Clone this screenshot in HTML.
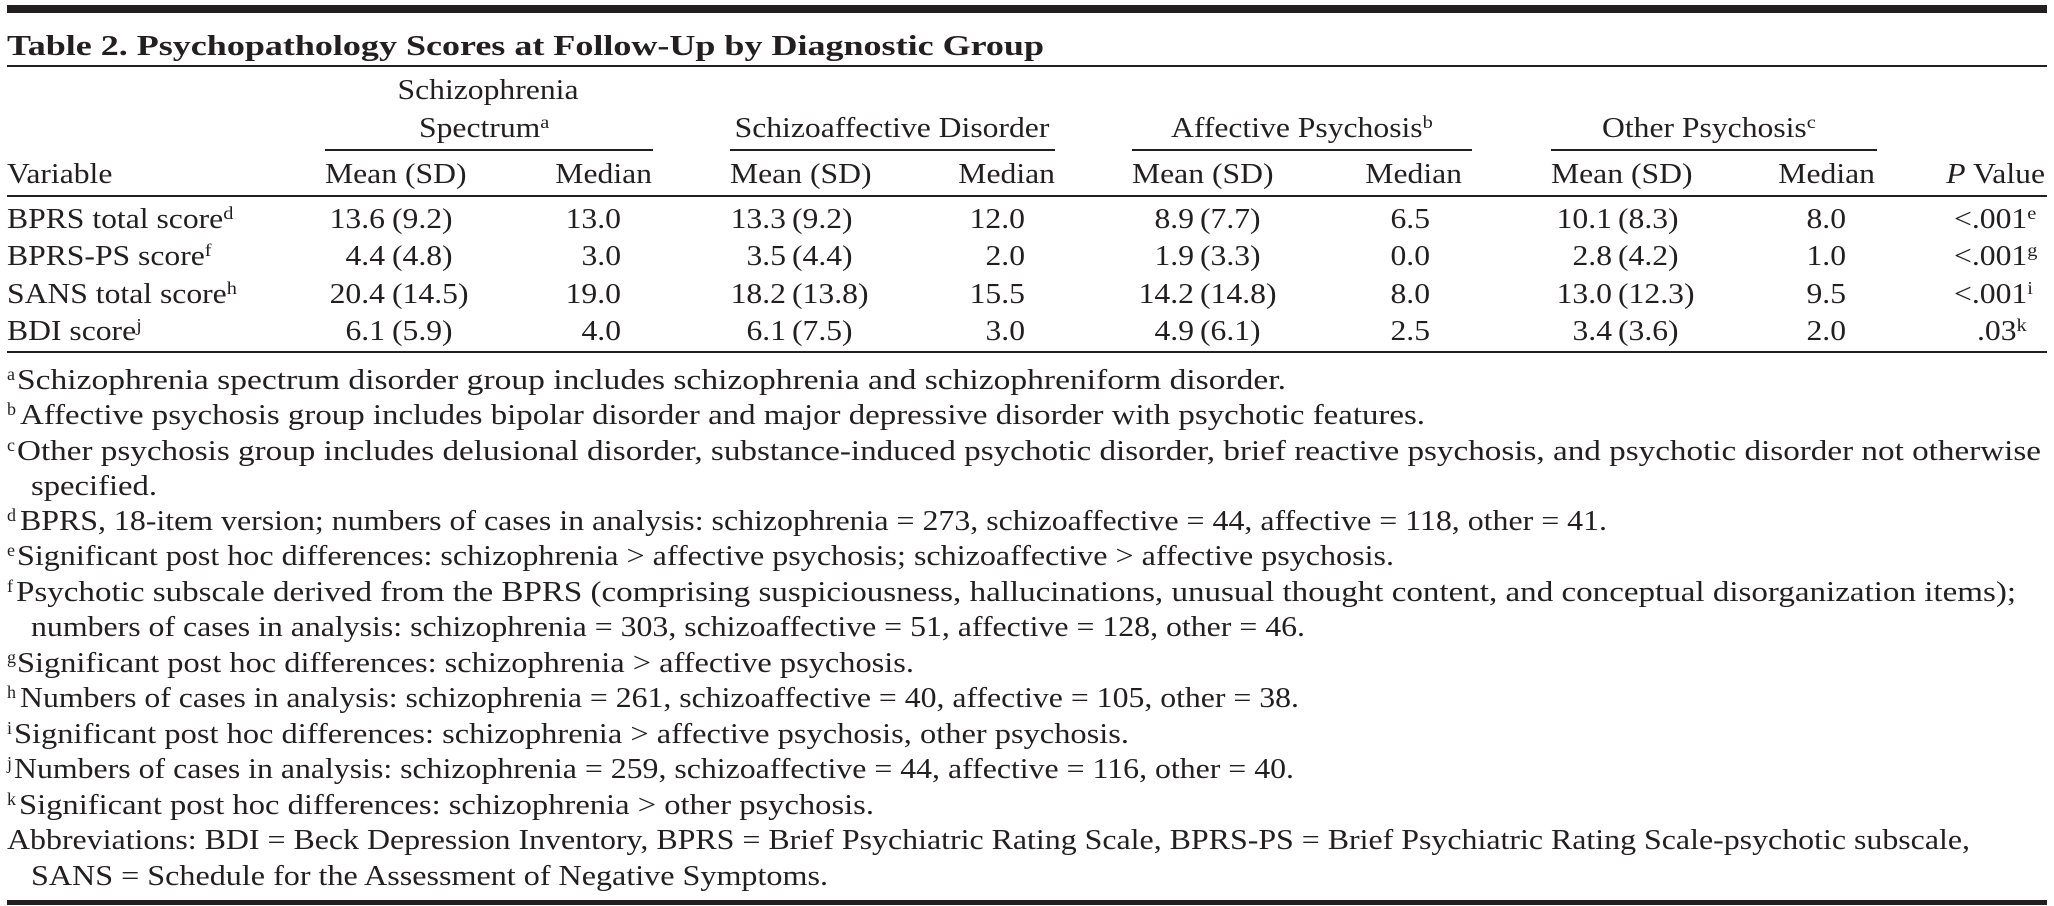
<!DOCTYPE html>
<html><head><meta charset="utf-8">
<style>
html,body{margin:0;padding:0;background:#fff;}
svg{display:block;}
text{font-family:"Liberation Serif",serif;font-size:28px;fill:#231f20;}
.sup{font-size:18px;}
.t{font-weight:bold;}
</style></head>
<body>
<svg width="2054" height="906" viewBox="0 0 2054 906">
<rect x="7" y="5" width="2040" height="8" fill="#231f20"/>
<text class="t" x="7" y="55" textLength="1037" lengthAdjust="spacingAndGlyphs">Table 2. Psychopathology Scores at Follow-Up by Diagnostic Group</text>
<rect x="7" y="65" width="2040" height="2" fill="#231f20"/>

<g>
<text class="s" x="488" y="99" text-anchor="middle">Schizophrenia</text>
<text class="s" x="419" y="137">Spectrum<tspan class="sup" dy="-9">a</tspan></text>
<text class="s" x="892" y="137" text-anchor="middle">Schizoaffective Disorder</text>
<text class="s" x="1171" y="137">Affective Psychosis<tspan class="sup" dy="-9">b</tspan></text>
<text class="s" x="1602" y="137">Other Psychosis<tspan class="sup" dy="-9">c</tspan></text>
<rect x="325" y="149" width="328" height="2" fill="#231f20"/>
<rect x="730" y="149" width="325" height="2" fill="#231f20"/>
<rect x="1132" y="149" width="340" height="2" fill="#231f20"/>
<rect x="1551" y="149" width="326" height="2" fill="#231f20"/>
</g>

<g>
<text class="s" x="7" y="183">Variable</text>
<text class="s" x="325" y="183">Mean (SD)</text>
<text class="s" x="652" y="183" text-anchor="end">Median</text>
<text class="s" x="730" y="183">Mean (SD)</text>
<text class="s" x="1055" y="183" text-anchor="end">Median</text>
<text class="s" x="1132" y="183">Mean (SD)</text>
<text class="s" x="1462" y="183" text-anchor="end">Median</text>
<text class="s" x="1551" y="183">Mean (SD)</text>
<text class="s" x="1875" y="183" text-anchor="end">Median</text>
<text class="s" x="2045" y="183" text-anchor="end"><tspan font-style="italic">P</tspan> Value</text>
</g>
<rect x="7" y="195" width="2040" height="2" fill="#231f20"/>

<g>
<text class="s" x="7" y="228">BPRS total score<tspan class="sup" dy="-9">d</tspan></text>
<text class="s" x="385" y="228" text-anchor="end">13.6</text><text class="s" x="392" y="228">(9.2)</text>
<text class="s" x="621" y="228" text-anchor="end">13.0</text>
<text class="s" x="786" y="228" text-anchor="end">13.3</text><text class="s" x="792" y="228">(9.2)</text>
<text class="s" x="1025" y="228" text-anchor="end">12.0</text>
<text class="s" x="1194" y="228" text-anchor="end">8.9</text><text class="s" x="1200" y="228">(7.7)</text>
<text class="s" x="1430" y="228" text-anchor="end">6.5</text>
<text class="s" x="1612" y="228" text-anchor="end">10.1</text><text class="s" x="1618" y="228">(8.3)</text>
<text class="s" x="1846" y="228" text-anchor="end">8.0</text>
<text class="s" x="1954" y="228">&lt;.001<tspan class="sup" dy="-9">e</tspan></text>
</g>
<g>
<text class="s" x="7" y="265">BPRS-PS score<tspan class="sup" dy="-9">f</tspan></text>
<text class="s" x="385" y="265" text-anchor="end">4.4</text><text class="s" x="392" y="265">(4.8)</text>
<text class="s" x="621" y="265" text-anchor="end">3.0</text>
<text class="s" x="786" y="265" text-anchor="end">3.5</text><text class="s" x="792" y="265">(4.4)</text>
<text class="s" x="1025" y="265" text-anchor="end">2.0</text>
<text class="s" x="1194" y="265" text-anchor="end">1.9</text><text class="s" x="1200" y="265">(3.3)</text>
<text class="s" x="1430" y="265" text-anchor="end">0.0</text>
<text class="s" x="1612" y="265" text-anchor="end">2.8</text><text class="s" x="1618" y="265">(4.2)</text>
<text class="s" x="1846" y="265" text-anchor="end">1.0</text>
<text class="s" x="1954" y="265">&lt;.001<tspan class="sup" dy="-9">g</tspan></text>
</g>
<g>
<text class="s" x="7" y="303">SANS total score<tspan class="sup" dy="-9">h</tspan></text>
<text class="s" x="385" y="303" text-anchor="end">20.4</text><text class="s" x="392" y="303">(14.5)</text>
<text class="s" x="621" y="303" text-anchor="end">19.0</text>
<text class="s" x="786" y="303" text-anchor="end">18.2</text><text class="s" x="792" y="303">(13.8)</text>
<text class="s" x="1025" y="303" text-anchor="end">15.5</text>
<text class="s" x="1194" y="303" text-anchor="end">14.2</text><text class="s" x="1200" y="303">(14.8)</text>
<text class="s" x="1430" y="303" text-anchor="end">8.0</text>
<text class="s" x="1612" y="303" text-anchor="end">13.0</text><text class="s" x="1618" y="303">(12.3)</text>
<text class="s" x="1846" y="303" text-anchor="end">9.5</text>
<text class="s" x="1954" y="303">&lt;.001<tspan class="sup" dy="-9">i</tspan></text>
</g>
<g>
<text class="s" x="7" y="340">BDI score<tspan class="sup" dy="-9">j</tspan></text>
<text class="s" x="385" y="340" text-anchor="end">6.1</text><text class="s" x="392" y="340">(5.9)</text>
<text class="s" x="621" y="340" text-anchor="end">4.0</text>
<text class="s" x="786" y="340" text-anchor="end">6.1</text><text class="s" x="792" y="340">(7.5)</text>
<text class="s" x="1025" y="340" text-anchor="end">3.0</text>
<text class="s" x="1194" y="340" text-anchor="end">4.9</text><text class="s" x="1200" y="340">(6.1)</text>
<text class="s" x="1430" y="340" text-anchor="end">2.5</text>
<text class="s" x="1612" y="340" text-anchor="end">3.4</text><text class="s" x="1618" y="340">(3.6)</text>
<text class="s" x="1846" y="340" text-anchor="end">2.0</text>
<text class="s" x="1977" y="340">.03<tspan class="sup" dy="-9">k</tspan></text>
</g>
<rect x="7" y="351" width="2040" height="2" fill="#231f20"/>

<g>
<text class="sup" x="7" y="380">a</text>
<text x="17" y="389" textLength="1269" lengthAdjust="spacingAndGlyphs">Schizophrenia spectrum disorder group includes schizophrenia and schizophreniform disorder.</text>
<text class="sup" x="7" y="415">b</text>
<text x="20" y="424" textLength="1405" lengthAdjust="spacingAndGlyphs">Affective psychosis group includes bipolar disorder and major depressive disorder with psychotic features.</text>
<text class="sup" x="7" y="451">c</text>
<text x="17" y="460" textLength="2024" lengthAdjust="spacingAndGlyphs">Other psychosis group includes delusional disorder, substance-induced psychotic disorder, brief reactive psychosis, and psychotic disorder not otherwise</text>
<text x="31" y="495" textLength="126" lengthAdjust="spacingAndGlyphs">specified.</text>
<text class="sup" x="7" y="521">d</text>
<text x="20" y="530" textLength="1587" lengthAdjust="spacingAndGlyphs">BPRS, 18-item version; numbers of cases in analysis: schizophrenia = 273, schizoaffective = 44, affective = 118, other = 41.</text>
<text class="sup" x="7" y="556">e</text>
<text x="17" y="565" textLength="1377" lengthAdjust="spacingAndGlyphs">Significant post hoc differences: schizophrenia &gt; affective psychosis; schizoaffective &gt; affective psychosis.</text>
<text class="sup" x="7" y="592">f</text>
<text x="16" y="601" textLength="2000" lengthAdjust="spacingAndGlyphs">Psychotic subscale derived from the BPRS (comprising suspiciousness, hallucinations, unusual thought content, and conceptual disorganization items);</text>
<text x="31" y="636" textLength="1274" lengthAdjust="spacingAndGlyphs">numbers of cases in analysis: schizophrenia = 303, schizoaffective = 51, affective = 128, other = 46.</text>
<text class="sup" x="7" y="663">g</text>
<text x="17" y="672" textLength="897" lengthAdjust="spacingAndGlyphs">Significant post hoc differences: schizophrenia &gt; affective psychosis.</text>
<text class="sup" x="7" y="698">h</text>
<text x="20" y="707" textLength="1279" lengthAdjust="spacingAndGlyphs">Numbers of cases in analysis: schizophrenia = 261, schizoaffective = 40, affective = 105, other = 38.</text>
<text class="sup" x="7" y="734">i</text>
<text x="14" y="743" textLength="1115" lengthAdjust="spacingAndGlyphs">Significant post hoc differences: schizophrenia &gt; affective psychosis, other psychosis.</text>
<text class="sup" x="7" y="769">j</text>
<text x="14" y="778" textLength="1280" lengthAdjust="spacingAndGlyphs">Numbers of cases in analysis: schizophrenia = 259, schizoaffective = 44, affective = 116, other = 40.</text>
<text class="sup" x="7" y="805">k</text>
<text x="19" y="814" textLength="855" lengthAdjust="spacingAndGlyphs">Significant post hoc differences: schizophrenia &gt; other psychosis.</text>
<text x="7" y="849" textLength="1963" lengthAdjust="spacingAndGlyphs">Abbreviations: BDI = Beck Depression Inventory, BPRS = Brief Psychiatric Rating Scale, BPRS-PS = Brief Psychiatric Rating Scale-psychotic subscale,</text>
<text x="31" y="885" textLength="797" lengthAdjust="spacingAndGlyphs">SANS = Schedule for the Assessment of Negative Symptoms.</text>
</g>
<rect x="7" y="900" width="2040" height="5" fill="#231f20"/>
</svg>
<script>
var STRETCH = 1.13;
document.querySelectorAll('text.s').forEach(function(t){
  var w = t.getComputedTextLength();
  t.setAttribute('textLength', (w*STRETCH).toFixed(1));
  t.setAttribute('lengthAdjust','spacingAndGlyphs');
});
</script>
</body></html>
